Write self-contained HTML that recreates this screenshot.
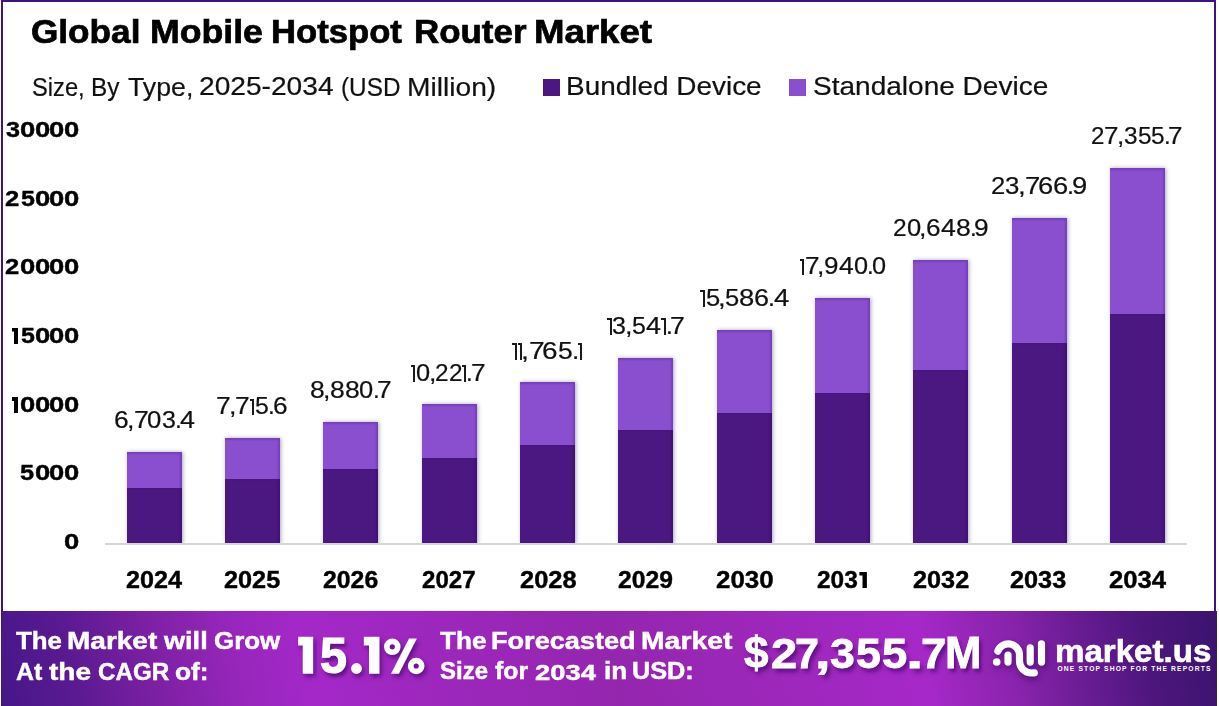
<!DOCTYPE html>
<html><head><meta charset="utf-8"><title>Global Mobile Hotspot Router Market</title>
<style>
html,body{margin:0;padding:0;background:#fff;}
body{width:1219px;height:706px;position:relative;overflow:hidden;font-family:"Liberation Sans",sans-serif;}
.frame{position:absolute;left:1px;top:0;width:1211px;height:704px;border:2px solid #3d1480;border-bottom:none;box-sizing:content-box;}
.t{position:absolute;white-space:nowrap;line-height:1;transform-origin:0 50%;}
.b{position:absolute;width:55.0px;}
.b.l{background:#8a4fcf;box-shadow:1px 0 4px rgba(60,30,110,.42),inset -2px 2px 2px rgba(60,30,120,.28);}
.b.d{background:#4b1781;box-shadow:inset -2px 0 2px rgba(40,10,80,.3);}
.axis{position:absolute;left:105px;top:543px;width:1081.5px;height:1.7px;background:#d6d6d6;border-bottom:6px solid #fff;}
.one{position:absolute;border-top:2px solid #1a1a1a;border-right:2px solid #1a1a1a;font-size:0;}
.bone{position:absolute;background:#000;font-size:0;clip-path:polygon(0 0,100% 0,100% 100%,calc(100% - 4.4px) 100%,calc(100% - 4.4px) 3.9px,0 3.9px);}
.hid{position:absolute;font-size:0;color:transparent;}
.lg{position:absolute;top:78.7px;width:16.8px;height:17.2px;}
.banner{position:absolute;left:1.5px;top:611px;width:1215px;height:95px;background:linear-gradient(80deg,#46177f 0%,#48178a 0.5%,#5c1a92 6.5%,#7d20a4 13%,#9626bb 19.5%,#a428c8 25.2%,#9426ae 50.4%,#a628c8 75.5%,#8723aa 83.2%,#691c94 88.3%,#4e167d 93.5%,#3f1472 98.3%,#3c1370 100%);}
</style></head><body>
<div class="frame"></div>
<div class="lg" style="left:543px;background:#4b1781"></div>
<div class="lg" style="left:788.8px;background:#8a4fcf"></div>
<div class="b l" style="left:126.5px;top:451.9px;height:92.2px"></div><div class="b d" style="left:126.5px;top:488.0px;height:56.1px"></div><div class="b l" style="left:224.9px;top:438.0px;height:106.1px"></div><div class="b d" style="left:224.9px;top:478.7px;height:65.4px"></div><div class="b l" style="left:323.2px;top:421.9px;height:122.2px"></div><div class="b d" style="left:323.2px;top:468.6px;height:75.5px"></div><div class="b l" style="left:421.6px;top:403.8px;height:140.3px"></div><div class="b d" style="left:421.6px;top:458.0px;height:86.1px"></div><div class="b l" style="left:520.0px;top:381.8px;height:162.3px"></div><div class="b d" style="left:520.0px;top:444.8px;height:99.3px"></div><div class="b l" style="left:618.3px;top:357.9px;height:186.2px"></div><div class="b d" style="left:618.3px;top:429.9px;height:114.2px"></div><div class="b l" style="left:716.7px;top:329.8px;height:214.3px"></div><div class="b d" style="left:716.7px;top:412.7px;height:131.4px"></div><div class="b l" style="left:815.1px;top:298.2px;height:245.9px"></div><div class="b d" style="left:815.1px;top:392.7px;height:151.4px"></div><div class="b l" style="left:913.4px;top:260.2px;height:283.9px"></div><div class="b d" style="left:913.4px;top:369.5px;height:174.6px"></div><div class="b l" style="left:1011.8px;top:217.9px;height:326.2px"></div><div class="b d" style="left:1011.8px;top:343.4px;height:200.7px"></div><div class="b l" style="left:1110.1px;top:167.7px;height:376.4px"></div><div class="b d" style="left:1110.1px;top:314.0px;height:230.1px"></div>
<div class="axis"></div>
<div class="banner"></div>
<svg style="position:absolute;left:0;top:0;filter:drop-shadow(1px 3px 3px rgba(50,0,90,.6))" width="1219" height="706" viewBox="0 0 1219 706" fill="none" stroke="#fff" stroke-width="7.2" stroke-linecap="round">
<path d="M997.8 651.2 A11.2 11.2 0 0 1 1019.5 655 V661 A12 12 0 0 0 1031.5 673 L1034.3 672.8"/>
<path d="M1008 655.2 V662.1 M1030.2 647.8 V662.1 M1041.5 643.8 V662.1"/>
<circle cx="996.7" cy="662" r="3.8" fill="#fff" stroke="none"/>
</svg>
<svg style="position:absolute;left:0;top:0;filter:drop-shadow(2.5px 3.5px 2.5px rgba(45,0,85,.6))" width="1219" height="706" viewBox="0 0 1219 706" fill="#fff">
<path d="M298.1 636.8H313.2V673.8H302.7V645.6H298.1Z"/>
<path d="M363.8 636.8H379.5V673.8H369V645.6H363.8Z"/>
<circle cx="356.5" cy="668.5" r="5.4"/>
<path d="M409 638.4H416.9L398.9 673.8H391Z"/>
<circle cx="392.3" cy="646.8" r="5.45" fill="none" stroke="#fff" stroke-width="5.7"/>
<circle cx="416.2" cy="666" r="5.45" fill="none" stroke="#fff" stroke-width="5.7"/>
</svg>
<span class="t" style="left:31.30px;top:15.79px;font-size:32.85px;font-weight:700;color:#000;transform:scaleX(1.0712);-webkit-text-stroke:0.7px #000;">Global</span><span class="t" style="left:149.87px;top:15.79px;font-size:32.85px;font-weight:700;color:#000;transform:scaleX(1.0866);-webkit-text-stroke:0.7px #000;">Mobile</span><span class="t" style="left:271.13px;top:15.79px;font-size:32.85px;font-weight:700;color:#000;transform:scaleX(1.0554);-webkit-text-stroke:0.7px #000;">Hotspot</span><span class="t" style="left:413.82px;top:15.79px;font-size:32.85px;font-weight:700;color:#000;transform:scaleX(1.0636);-webkit-text-stroke:0.7px #000;">Router</span><span class="t" style="left:534.21px;top:15.79px;font-size:32.85px;font-weight:700;color:#000;transform:scaleX(1.1150);-webkit-text-stroke:0.7px #000;">Market</span><span class="t" style="left:31.56px;top:73.71px;font-size:26.45px;font-weight:400;color:#111;transform:scaleX(0.8963);-webkit-text-stroke:0.2px #111;">Size,</span><span class="t" style="left:90.59px;top:73.71px;font-size:26.45px;font-weight:400;color:#111;transform:scaleX(0.9235);-webkit-text-stroke:0.2px #111;">By</span><span class="t" style="left:127.98px;top:73.71px;font-size:26.45px;font-weight:400;color:#111;transform:scaleX(1.0111);-webkit-text-stroke:0.2px #111;">Type,</span><span class="t" style="left:198.88px;top:74.46px;font-size:25.56px;font-weight:400;color:#111;transform:scaleX(1.1013);-webkit-text-stroke:0.2px #111;">2025-2034</span><span class="t" style="left:341.16px;top:73.71px;font-size:26.45px;font-weight:400;color:#111;transform:scaleX(0.9199);-webkit-text-stroke:0.2px #111;">(USD</span><span class="t" style="left:406.50px;top:73.71px;font-size:26.45px;font-weight:400;color:#111;transform:scaleX(1.0654);-webkit-text-stroke:0.2px #111;">Million)</span><span class="t" style="left:566.42px;top:73.62px;font-size:25.73px;font-weight:400;color:#111;transform:scaleX(1.0861);-webkit-text-stroke:0.2px #111;">Bundled Device</span><span class="t" style="left:812.82px;top:73.62px;font-size:25.73px;font-weight:400;color:#111;transform:scaleX(1.0896);-webkit-text-stroke:0.2px #111;">Standalone Device</span><span class="t" style="left:5.81px;top:118.86px;font-size:22.61px;font-weight:700;color:#000;transform:scaleX(1.1150);-webkit-text-stroke:0.4px #000;">3</span><span class="t" style="left:20.39px;top:118.86px;font-size:22.61px;font-weight:700;color:#000;transform:scaleX(1.2143);-webkit-text-stroke:0.4px #000;">0</span><span class="t" style="left:34.94px;top:118.86px;font-size:22.61px;font-weight:700;color:#000;transform:scaleX(1.2143);-webkit-text-stroke:0.4px #000;">0</span><span class="t" style="left:49.49px;top:118.86px;font-size:22.61px;font-weight:700;color:#000;transform:scaleX(1.2143);-webkit-text-stroke:0.4px #000;">0</span><span class="t" style="left:64.04px;top:118.86px;font-size:22.61px;font-weight:700;color:#000;transform:scaleX(1.2143);-webkit-text-stroke:0.4px #000;">0</span><span class="t" style="left:5.40px;top:187.86px;font-size:22.61px;font-weight:700;color:#000;transform:scaleX(1.1321);-webkit-text-stroke:0.4px #000;">2</span><span class="t" style="left:20.66px;top:187.86px;font-size:22.61px;font-weight:700;color:#000;transform:scaleX(1.1064);-webkit-text-stroke:0.4px #000;">5</span><span class="t" style="left:34.94px;top:187.86px;font-size:22.61px;font-weight:700;color:#000;transform:scaleX(1.2143);-webkit-text-stroke:0.4px #000;">0</span><span class="t" style="left:49.49px;top:187.86px;font-size:22.61px;font-weight:700;color:#000;transform:scaleX(1.2143);-webkit-text-stroke:0.4px #000;">0</span><span class="t" style="left:64.04px;top:187.86px;font-size:22.61px;font-weight:700;color:#000;transform:scaleX(1.2143);-webkit-text-stroke:0.4px #000;">0</span><span class="t" style="left:5.40px;top:256.46px;font-size:22.61px;font-weight:700;color:#000;transform:scaleX(1.1321);-webkit-text-stroke:0.4px #000;">2</span><span class="t" style="left:20.39px;top:256.46px;font-size:22.61px;font-weight:700;color:#000;transform:scaleX(1.2143);-webkit-text-stroke:0.4px #000;">0</span><span class="t" style="left:34.94px;top:256.46px;font-size:22.61px;font-weight:700;color:#000;transform:scaleX(1.2143);-webkit-text-stroke:0.4px #000;">0</span><span class="t" style="left:49.49px;top:256.46px;font-size:22.61px;font-weight:700;color:#000;transform:scaleX(1.2143);-webkit-text-stroke:0.4px #000;">0</span><span class="t" style="left:64.04px;top:256.46px;font-size:22.61px;font-weight:700;color:#000;transform:scaleX(1.2143);-webkit-text-stroke:0.4px #000;">0</span><i class="bone" style="left:11.6px;top:327.7px;width:6.8px;height:16.3px">1</i><span class="t" style="left:20.66px;top:324.86px;font-size:22.61px;font-weight:700;color:#000;transform:scaleX(1.1064);-webkit-text-stroke:0.4px #000;">5</span><span class="t" style="left:34.94px;top:324.86px;font-size:22.61px;font-weight:700;color:#000;transform:scaleX(1.2143);-webkit-text-stroke:0.4px #000;">0</span><span class="t" style="left:49.49px;top:324.86px;font-size:22.61px;font-weight:700;color:#000;transform:scaleX(1.2143);-webkit-text-stroke:0.4px #000;">0</span><span class="t" style="left:64.04px;top:324.86px;font-size:22.61px;font-weight:700;color:#000;transform:scaleX(1.2143);-webkit-text-stroke:0.4px #000;">0</span><i class="bone" style="left:11.6px;top:397.1px;width:6.8px;height:16.3px">1</i><span class="t" style="left:20.39px;top:394.26px;font-size:22.61px;font-weight:700;color:#000;transform:scaleX(1.2143);-webkit-text-stroke:0.4px #000;">0</span><span class="t" style="left:34.94px;top:394.26px;font-size:22.61px;font-weight:700;color:#000;transform:scaleX(1.2143);-webkit-text-stroke:0.4px #000;">0</span><span class="t" style="left:49.49px;top:394.26px;font-size:22.61px;font-weight:700;color:#000;transform:scaleX(1.2143);-webkit-text-stroke:0.4px #000;">0</span><span class="t" style="left:64.04px;top:394.26px;font-size:22.61px;font-weight:700;color:#000;transform:scaleX(1.2143);-webkit-text-stroke:0.4px #000;">0</span><span class="t" style="left:19.90px;top:461.96px;font-size:22.61px;font-weight:700;color:#000;transform:scaleX(1.1235);-webkit-text-stroke:0.4px #000;">5</span><span class="t" style="left:34.94px;top:461.96px;font-size:22.61px;font-weight:700;color:#000;transform:scaleX(1.2143);-webkit-text-stroke:0.4px #000;">0</span><span class="t" style="left:49.49px;top:461.96px;font-size:22.61px;font-weight:700;color:#000;transform:scaleX(1.2143);-webkit-text-stroke:0.4px #000;">0</span><span class="t" style="left:64.04px;top:461.96px;font-size:22.61px;font-weight:700;color:#000;transform:scaleX(1.2143);-webkit-text-stroke:0.4px #000;">0</span><span class="t" style="left:64.04px;top:531.16px;font-size:22.61px;font-weight:700;color:#000;transform:scaleX(1.2143);-webkit-text-stroke:0.4px #000;">0</span><span class="t" style="left:125.51px;top:568.09px;font-size:23.88px;font-weight:700;color:#000;transform:scaleX(1.0548);-webkit-text-stroke:0.4px #000;">2024</span><span class="t" style="left:114.16px;top:409.25px;font-size:23.46px;font-weight:400;color:#111;transform:scaleX(1.1255);-webkit-text-stroke:0.2px #111;">6</span><span class="t" style="left:126.96px;top:409.25px;font-size:23.46px;font-weight:400;color:#111;transform:scaleX(1.1481);-webkit-text-stroke:0.2px #111;">,</span><span class="t" style="left:133.75px;top:409.25px;font-size:23.46px;font-weight:400;color:#111;transform:scaleX(1.1345);-webkit-text-stroke:0.2px #111;">7</span><span class="t" style="left:147.27px;top:409.25px;font-size:23.46px;font-weight:400;color:#111;transform:scaleX(1.0974);-webkit-text-stroke:0.2px #111;">0</span><span class="t" style="left:161.84px;top:409.25px;font-size:23.46px;font-weight:400;color:#111;transform:scaleX(1.0631);-webkit-text-stroke:0.2px #111;">3</span><span class="t" style="left:174.77px;top:409.25px;font-size:23.46px;font-weight:400;color:#111;transform:scaleX(1.0419);-webkit-text-stroke:0.2px #111;">.</span><span class="t" style="left:180.22px;top:409.25px;font-size:23.46px;font-weight:400;color:#111;transform:scaleX(1.1460);-webkit-text-stroke:0.2px #111;">4</span><span class="t" style="left:223.91px;top:568.09px;font-size:23.88px;font-weight:700;color:#000;transform:scaleX(1.0584);-webkit-text-stroke:0.4px #000;">2025</span><span class="t" style="left:215.86px;top:395.45px;font-size:23.46px;font-weight:400;color:#111;transform:scaleX(1.1297);-webkit-text-stroke:0.2px #111;">7</span><span class="t" style="left:228.71px;top:395.45px;font-size:23.46px;font-weight:400;color:#111;transform:scaleX(1.1432);-webkit-text-stroke:0.2px #111;">,</span><span class="t" style="left:235.47px;top:395.45px;font-size:23.46px;font-weight:400;color:#111;transform:scaleX(1.1297);-webkit-text-stroke:0.2px #111;">7</span><i class="one" style="left:250px;top:399px;width:2px;height:14px">1</i><span class="t" style="left:255.36px;top:395.45px;font-size:23.46px;font-weight:400;color:#111;transform:scaleX(1.0586);-webkit-text-stroke:0.2px #111;">5</span><span class="t" style="left:268.23px;top:395.45px;font-size:23.46px;font-weight:400;color:#111;transform:scaleX(1.0375);-webkit-text-stroke:0.2px #111;">.</span><span class="t" style="left:272.85px;top:395.45px;font-size:23.46px;font-weight:400;color:#111;transform:scaleX(1.1208);-webkit-text-stroke:0.2px #111;">6</span><span class="t" style="left:323.02px;top:568.09px;font-size:23.88px;font-weight:700;color:#000;transform:scaleX(1.0391);-webkit-text-stroke:0.4px #000;">2026</span><span class="t" style="left:310.17px;top:379.05px;font-size:23.46px;font-weight:400;color:#111;transform:scaleX(1.1305);-webkit-text-stroke:0.2px #111;">8</span><span class="t" style="left:323.03px;top:379.05px;font-size:23.46px;font-weight:400;color:#111;transform:scaleX(1.1369);-webkit-text-stroke:0.2px #111;">,</span><span class="t" style="left:330.17px;top:379.05px;font-size:23.46px;font-weight:400;color:#111;transform:scaleX(1.1305);-webkit-text-stroke:0.2px #111;">8</span><span class="t" style="left:344.68px;top:379.05px;font-size:23.46px;font-weight:400;color:#111;transform:scaleX(1.1305);-webkit-text-stroke:0.2px #111;">8</span><span class="t" style="left:359.22px;top:379.05px;font-size:23.46px;font-weight:400;color:#111;transform:scaleX(1.0868);-webkit-text-stroke:0.2px #111;">0</span><span class="t" style="left:372.83px;top:379.05px;font-size:23.46px;font-weight:400;color:#111;transform:scaleX(1.0318);-webkit-text-stroke:0.2px #111;">.</span><span class="t" style="left:377.41px;top:379.05px;font-size:23.46px;font-weight:400;color:#111;transform:scaleX(1.1236);-webkit-text-stroke:0.2px #111;">7</span><span class="t" style="left:421.85px;top:568.09px;font-size:23.88px;font-weight:700;color:#000;transform:scaleX(1.0077);-webkit-text-stroke:0.4px #000;">2027</span><i class="one" style="left:411px;top:365px;width:2px;height:15px">1</i><span class="t" style="left:415.97px;top:362.05px;font-size:23.46px;font-weight:400;color:#111;transform:scaleX(1.0836);-webkit-text-stroke:0.2px #111;">0</span><span class="t" style="left:428.66px;top:362.05px;font-size:23.46px;font-weight:400;color:#111;transform:scaleX(1.1336);-webkit-text-stroke:0.2px #111;">,</span><span class="t" style="left:435.46px;top:362.05px;font-size:23.46px;font-weight:400;color:#111;transform:scaleX(1.0402);-webkit-text-stroke:0.2px #111;">2</span><span class="t" style="left:448.56px;top:362.05px;font-size:23.46px;font-weight:400;color:#111;transform:scaleX(1.0402);-webkit-text-stroke:0.2px #111;">2</span><i class="one" style="left:462px;top:365px;width:2px;height:15px">1</i><span class="t" style="left:466.49px;top:362.05px;font-size:23.46px;font-weight:400;color:#111;transform:scaleX(1.0288);-webkit-text-stroke:0.2px #111;">.</span><span class="t" style="left:471.05px;top:362.05px;font-size:23.46px;font-weight:400;color:#111;transform:scaleX(1.1203);-webkit-text-stroke:0.2px #111;">7</span><span class="t" style="left:519.50px;top:568.09px;font-size:23.88px;font-weight:700;color:#000;transform:scaleX(1.0662);-webkit-text-stroke:0.4px #000;">2028</span><i class="one" style="left:512px;top:343px;width:3px;height:15px">1</i><i class="one" style="left:518px;top:343px;width:2px;height:15px">1</i><span class="t" style="left:521.42px;top:340.05px;font-size:23.46px;font-weight:400;color:#111;transform:scaleX(1.2165);-webkit-text-stroke:0.2px #111;">,</span><span class="t" style="left:528.62px;top:340.05px;font-size:23.46px;font-weight:400;color:#111;transform:scaleX(1.2022);-webkit-text-stroke:0.2px #111;">7</span><span class="t" style="left:542.48px;top:340.05px;font-size:23.46px;font-weight:400;color:#111;transform:scaleX(1.1927);-webkit-text-stroke:0.2px #111;">6</span><span class="t" style="left:557.86px;top:340.05px;font-size:23.46px;font-weight:400;color:#111;transform:scaleX(1.1265);-webkit-text-stroke:0.2px #111;">5</span><span class="t" style="left:571.56px;top:340.05px;font-size:23.46px;font-weight:400;color:#111;transform:scaleX(1.1041);-webkit-text-stroke:0.2px #111;">.</span><i class="one" style="left:578px;top:343px;width:2px;height:15px">1</i><span class="t" style="left:618.03px;top:568.09px;font-size:23.88px;font-weight:700;color:#000;transform:scaleX(1.0333);-webkit-text-stroke:0.4px #000;">2029</span><i class="one" style="left:607px;top:318px;width:3px;height:15px">1</i><span class="t" style="left:612.47px;top:315.05px;font-size:23.46px;font-weight:400;color:#111;transform:scaleX(1.0655);-webkit-text-stroke:0.2px #111;">3</span><span class="t" style="left:624.54px;top:315.05px;font-size:23.46px;font-weight:400;color:#111;transform:scaleX(1.1507);-webkit-text-stroke:0.2px #111;">,</span><span class="t" style="left:631.82px;top:315.05px;font-size:23.46px;font-weight:400;color:#111;transform:scaleX(1.0655);-webkit-text-stroke:0.2px #111;">5</span><span class="t" style="left:645.97px;top:315.05px;font-size:23.46px;font-weight:400;color:#111;transform:scaleX(1.1486);-webkit-text-stroke:0.2px #111;">4</span><i class="one" style="left:661px;top:318px;width:3px;height:15px">1</i><span class="t" style="left:665.71px;top:315.05px;font-size:23.46px;font-weight:400;color:#111;transform:scaleX(1.0443);-webkit-text-stroke:0.2px #111;">.</span><span class="t" style="left:670.35px;top:315.05px;font-size:23.46px;font-weight:400;color:#111;transform:scaleX(1.1372);-webkit-text-stroke:0.2px #111;">7</span><span class="t" style="left:715.79px;top:568.09px;font-size:23.88px;font-weight:700;color:#000;transform:scaleX(1.0856);-webkit-text-stroke:0.4px #000;">2030</span><i class="one" style="left:700px;top:290px;width:3px;height:15px">1</i><span class="t" style="left:705.69px;top:286.85px;font-size:23.46px;font-weight:400;color:#111;transform:scaleX(1.0887);-webkit-text-stroke:0.2px #111;">5</span><span class="t" style="left:718.02px;top:286.85px;font-size:23.46px;font-weight:400;color:#111;transform:scaleX(1.1757);-webkit-text-stroke:0.2px #111;">,</span><span class="t" style="left:725.46px;top:286.85px;font-size:23.46px;font-weight:400;color:#111;transform:scaleX(1.0887);-webkit-text-stroke:0.2px #111;">5</span><span class="t" style="left:739.49px;top:286.85px;font-size:23.46px;font-weight:400;color:#111;transform:scaleX(1.1690);-webkit-text-stroke:0.2px #111;">8</span><span class="t" style="left:754.08px;top:286.85px;font-size:23.46px;font-weight:400;color:#111;transform:scaleX(1.1526);-webkit-text-stroke:0.2px #111;">6</span><span class="t" style="left:768.10px;top:286.85px;font-size:23.46px;font-weight:400;color:#111;transform:scaleX(1.0670);-webkit-text-stroke:0.2px #111;">.</span><span class="t" style="left:773.68px;top:286.85px;font-size:23.46px;font-weight:400;color:#111;transform:scaleX(1.1736);-webkit-text-stroke:0.2px #111;">4</span><span class="t" style="left:816.84px;top:568.09px;font-size:23.88px;font-weight:700;color:#000;transform:scaleX(1.0235);-webkit-text-stroke:0.4px #000;">203</span><i class="bone" style="left:859.4px;top:571.5px;width:7.5px;height:16.9px">1</i><i class="one" style="left:800px;top:259px;width:2px;height:14px">1</i><span class="t" style="left:804.61px;top:255.35px;font-size:23.46px;font-weight:400;color:#111;transform:scaleX(1.1161);-webkit-text-stroke:0.2px #111;">7</span><span class="t" style="left:817.31px;top:255.35px;font-size:23.46px;font-weight:400;color:#111;transform:scaleX(1.1294);-webkit-text-stroke:0.2px #111;">,</span><span class="t" style="left:824.00px;top:255.35px;font-size:23.46px;font-weight:400;color:#111;transform:scaleX(1.1072);-webkit-text-stroke:0.2px #111;">9</span><span class="t" style="left:838.63px;top:255.35px;font-size:23.46px;font-weight:400;color:#111;transform:scaleX(1.1273);-webkit-text-stroke:0.2px #111;">4</span><span class="t" style="left:853.55px;top:255.35px;font-size:23.46px;font-weight:400;color:#111;transform:scaleX(1.0795);-webkit-text-stroke:0.2px #111;">0</span><span class="t" style="left:867.07px;top:255.35px;font-size:23.46px;font-weight:400;color:#111;transform:scaleX(1.0250);-webkit-text-stroke:0.2px #111;">.</span><span class="t" style="left:872.05px;top:255.35px;font-size:23.46px;font-weight:400;color:#111;transform:scaleX(1.0795);-webkit-text-stroke:0.2px #111;">0</span><span class="t" style="left:912.71px;top:568.09px;font-size:23.88px;font-weight:700;color:#000;transform:scaleX(1.0584);-webkit-text-stroke:0.4px #000;">2032</span><span class="t" style="left:893.05px;top:217.25px;font-size:23.46px;font-weight:400;color:#111;transform:scaleX(1.0463);-webkit-text-stroke:0.2px #111;">2</span><span class="t" style="left:906.58px;top:217.25px;font-size:23.46px;font-weight:400;color:#111;transform:scaleX(1.0899);-webkit-text-stroke:0.2px #111;">0</span><span class="t" style="left:919.35px;top:217.25px;font-size:23.46px;font-weight:400;color:#111;transform:scaleX(1.1402);-webkit-text-stroke:0.2px #111;">,</span><span class="t" style="left:926.10px;top:217.25px;font-size:23.46px;font-weight:400;color:#111;transform:scaleX(1.1178);-webkit-text-stroke:0.2px #111;">6</span><span class="t" style="left:940.88px;top:217.25px;font-size:23.46px;font-weight:400;color:#111;transform:scaleX(1.1381);-webkit-text-stroke:0.2px #111;">4</span><span class="t" style="left:955.90px;top:217.25px;font-size:23.46px;font-weight:400;color:#111;transform:scaleX(1.1337);-webkit-text-stroke:0.2px #111;">8</span><span class="t" style="left:969.68px;top:217.25px;font-size:23.46px;font-weight:400;color:#111;transform:scaleX(1.0348);-webkit-text-stroke:0.2px #111;">.</span><span class="t" style="left:974.28px;top:217.25px;font-size:23.46px;font-weight:400;color:#111;transform:scaleX(1.1178);-webkit-text-stroke:0.2px #111;">9</span><span class="t" style="left:1010.21px;top:568.09px;font-size:23.88px;font-weight:700;color:#000;transform:scaleX(1.0584);-webkit-text-stroke:0.4px #000;">2033</span><span class="t" style="left:991.30px;top:175.05px;font-size:23.46px;font-weight:400;color:#111;transform:scaleX(1.0910);-webkit-text-stroke:0.2px #111;">2</span><span class="t" style="left:1005.43px;top:175.05px;font-size:23.46px;font-weight:400;color:#111;transform:scaleX(1.1009);-webkit-text-stroke:0.2px #111;">3</span><span class="t" style="left:1017.90px;top:175.05px;font-size:23.46px;font-weight:400;color:#111;transform:scaleX(1.1889);-webkit-text-stroke:0.2px #111;">,</span><span class="t" style="left:1024.94px;top:175.05px;font-size:23.46px;font-weight:400;color:#111;transform:scaleX(1.1749);-webkit-text-stroke:0.2px #111;">7</span><span class="t" style="left:1038.48px;top:175.05px;font-size:23.46px;font-weight:400;color:#111;transform:scaleX(1.1656);-webkit-text-stroke:0.2px #111;">6</span><span class="t" style="left:1053.04px;top:175.05px;font-size:23.46px;font-weight:400;color:#111;transform:scaleX(1.1656);-webkit-text-stroke:0.2px #111;">6</span><span class="t" style="left:1067.21px;top:175.05px;font-size:23.46px;font-weight:400;color:#111;transform:scaleX(1.0790);-webkit-text-stroke:0.2px #111;">.</span><span class="t" style="left:1072.00px;top:175.05px;font-size:23.46px;font-weight:400;color:#111;transform:scaleX(1.1656);-webkit-text-stroke:0.2px #111;">9</span><span class="t" style="left:1108.60px;top:568.09px;font-size:23.88px;font-weight:700;color:#000;transform:scaleX(1.0739);-webkit-text-stroke:0.4px #000;">2034</span><span class="t" style="left:1091.47px;top:125.35px;font-size:23.46px;font-weight:400;color:#111;transform:scaleX(1.0294);-webkit-text-stroke:0.2px #111;">2</span><span class="t" style="left:1104.34px;top:125.35px;font-size:23.46px;font-weight:400;color:#111;transform:scaleX(1.1086);-webkit-text-stroke:0.2px #111;">7</span><span class="t" style="left:1116.95px;top:125.35px;font-size:23.46px;font-weight:400;color:#111;transform:scaleX(1.1218);-webkit-text-stroke:0.2px #111;">,</span><span class="t" style="left:1124.05px;top:125.35px;font-size:23.46px;font-weight:400;color:#111;transform:scaleX(1.0388);-webkit-text-stroke:0.2px #111;">3</span><span class="t" style="left:1137.50px;top:125.35px;font-size:23.46px;font-weight:400;color:#111;transform:scaleX(1.0388);-webkit-text-stroke:0.2px #111;">5</span><span class="t" style="left:1150.94px;top:125.35px;font-size:23.46px;font-weight:400;color:#111;transform:scaleX(1.0388);-webkit-text-stroke:0.2px #111;">5</span><span class="t" style="left:1163.58px;top:125.35px;font-size:23.46px;font-weight:400;color:#111;transform:scaleX(1.0181);-webkit-text-stroke:0.2px #111;">.</span><span class="t" style="left:1168.09px;top:125.35px;font-size:23.46px;font-weight:400;color:#111;transform:scaleX(1.1086);-webkit-text-stroke:0.2px #111;">7</span><span class="t" style="left:16.40px;top:630.44px;font-size:23.69px;font-weight:700;color:#fff;transform:scaleX(1.0908);-webkit-text-stroke:0.45px #fff;">The</span><span class="t" style="left:66.85px;top:630.44px;font-size:23.69px;font-weight:700;color:#fff;transform:scaleX(1.1822);-webkit-text-stroke:0.45px #fff;">Market</span><span class="t" style="left:164.32px;top:630.44px;font-size:23.69px;font-weight:700;color:#fff;transform:scaleX(1.1441);-webkit-text-stroke:0.45px #fff;">will</span><span class="t" style="left:213.59px;top:630.44px;font-size:23.69px;font-weight:700;color:#fff;transform:scaleX(1.0937);-webkit-text-stroke:0.45px #fff;">Grow</span><span class="t" style="left:16.01px;top:660.84px;font-size:23.69px;font-weight:700;color:#fff;transform:scaleX(1.0525);-webkit-text-stroke:0.45px #fff;">At</span><span class="t" style="left:49.00px;top:660.84px;font-size:23.69px;font-weight:700;color:#fff;transform:scaleX(1.1846);-webkit-text-stroke:0.45px #fff;">the</span><span class="t" style="left:97.64px;top:660.84px;font-size:23.69px;font-weight:700;color:#fff;transform:scaleX(1.0224);-webkit-text-stroke:0.45px #fff;">CAGR</span><span class="t" style="left:174.98px;top:660.84px;font-size:23.69px;font-weight:700;color:#fff;transform:scaleX(1.1109);-webkit-text-stroke:0.45px #fff;">of:</span><i class="hid" style="left:298px;top:637px">1</i><span class="t" style="left:319.64px;top:630.88px;font-size:50.00px;font-weight:700;color:#fff;transform:scaleX(0.9697);-webkit-text-stroke:1.2px #fff;text-shadow:2.5px 3.5px 4px rgba(45,0,85,.6);">5</span><i class="hid" style="left:351px;top:637px">.1%</i><span class="t" style="left:440.20px;top:630.34px;font-size:23.69px;font-weight:700;color:#fff;transform:scaleX(1.1028);-webkit-text-stroke:0.45px #fff;">The</span><span class="t" style="left:490.61px;top:630.34px;font-size:23.69px;font-weight:700;color:#fff;transform:scaleX(1.1441);-webkit-text-stroke:0.45px #fff;">Forecasted</span><span class="t" style="left:640.63px;top:630.34px;font-size:23.69px;font-weight:700;color:#fff;transform:scaleX(1.1969);-webkit-text-stroke:0.45px #fff;">Market</span><span class="t" style="left:439.83px;top:660.34px;font-size:23.69px;font-weight:700;color:#fff;transform:scaleX(1.0119);-webkit-text-stroke:0.45px #fff;">Size</span><span class="t" style="left:495.21px;top:660.34px;font-size:23.69px;font-weight:700;color:#fff;transform:scaleX(1.0461);-webkit-text-stroke:0.45px #fff;">for</span><span class="t" style="left:535.44px;top:661.02px;font-size:22.89px;font-weight:700;color:#fff;transform:scaleX(1.1974);-webkit-text-stroke:0.45px #fff;">2034</span><span class="t" style="left:603.87px;top:660.34px;font-size:23.69px;font-weight:700;color:#fff;transform:scaleX(1.1016);-webkit-text-stroke:0.45px #fff;">in</span><span class="t" style="left:632.32px;top:660.34px;font-size:23.69px;font-weight:700;color:#fff;transform:scaleX(1.0669);-webkit-text-stroke:0.45px #fff;">USD:</span><span class="t" style="left:744.40px;top:630.62px;font-size:44.04px;font-weight:700;color:#fff;transform:scaleX(1.0006);-webkit-text-stroke:0.8px #fff;text-shadow:2.5px 3.5px 4px rgba(45,0,85,.6);">$</span><span class="t" style="left:770.73px;top:631.88px;font-size:42.56px;font-weight:700;color:#fff;transform:scaleX(1.1044);-webkit-text-stroke:0.8px #fff;text-shadow:2.5px 3.5px 4px rgba(45,0,85,.6);">2</span><span class="t" style="left:795.35px;top:631.88px;font-size:42.56px;font-weight:700;color:#fff;transform:scaleX(1.0139);-webkit-text-stroke:0.8px #fff;text-shadow:2.5px 3.5px 4px rgba(45,0,85,.6);">7</span><span class="t" style="left:814.82px;top:631.88px;font-size:42.56px;font-weight:700;color:#fff;transform:scaleX(1.3084);-webkit-text-stroke:0.8px #fff;text-shadow:2.5px 3.5px 4px rgba(45,0,85,.6);">,</span><span class="t" style="left:829.50px;top:631.88px;font-size:42.56px;font-weight:700;color:#fff;transform:scaleX(1.0482);-webkit-text-stroke:0.8px #fff;text-shadow:2.5px 3.5px 4px rgba(45,0,85,.6);">3</span><span class="t" style="left:855.60px;top:631.88px;font-size:42.56px;font-weight:700;color:#fff;transform:scaleX(1.0527);-webkit-text-stroke:0.8px #fff;text-shadow:2.5px 3.5px 4px rgba(45,0,85,.6);">5</span><span class="t" style="left:882.39px;top:631.88px;font-size:42.56px;font-weight:700;color:#fff;transform:scaleX(1.0664);-webkit-text-stroke:0.8px #fff;text-shadow:2.5px 3.5px 4px rgba(45,0,85,.6);">5</span><span class="t" style="left:906.38px;top:631.88px;font-size:42.56px;font-weight:700;color:#fff;transform:scaleX(1.4738);-webkit-text-stroke:0.8px #fff;text-shadow:2.5px 3.5px 4px rgba(45,0,85,.6);">.</span><span class="t" style="left:920.78px;top:631.88px;font-size:42.56px;font-weight:700;color:#fff;transform:scaleX(1.0673);-webkit-text-stroke:0.8px #fff;text-shadow:2.5px 3.5px 4px rgba(45,0,85,.6);">7</span><span class="t" style="left:944.57px;top:630.62px;font-size:44.04px;font-weight:700;color:#fff;transform:scaleX(0.9920);-webkit-text-stroke:0.8px #fff;text-shadow:2.5px 3.5px 4px rgba(45,0,85,.6);">M</span><span class="t" style="left:1055.43px;top:636.06px;font-size:30.52px;font-weight:700;color:#fff;transform:scaleX(1.0839);-webkit-text-stroke:0.6px #fff;">market.us</span><span class="t" style="left:1057.39px;top:665.54px;font-size:6.69px;font-weight:700;color:#fff;letter-spacing:1.167px;">ONE STOP SHOP FOR THE REPORTS</span>
</body></html>
